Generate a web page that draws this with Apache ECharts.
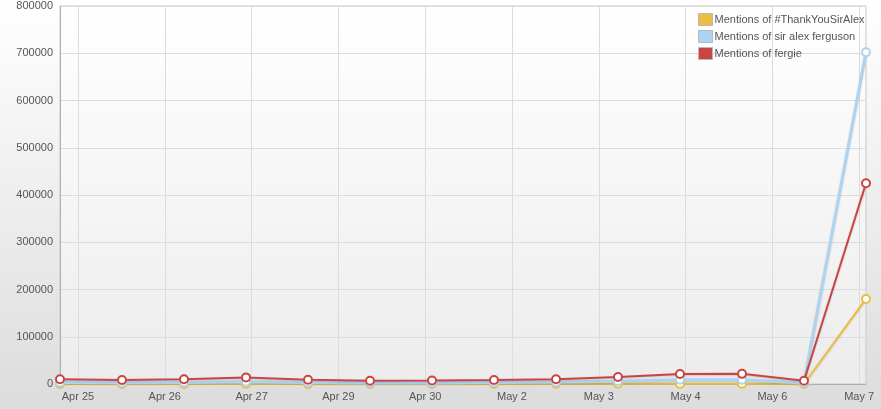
<!DOCTYPE html>
<html>
<head>
<meta charset="utf-8">
<script src="https://cdn.jsdelivr.net/npm/echarts@6/dist/echarts.min.js"></script>
<style>
html,body{margin:0;padding:0;}
#c{width:881px;height:409px;}
</style>
</head>
<body>
<div id="c"></div>
<script>
// Day index of each data point (daily samples)
var days = [0,1,2,3,4,5,6,7,8,9,10,11,12,13];
var seriesNames = ['Mentions of #ThankYouSirAlex','Mentions of sir alex ferguson','Mentions of fergie'];
var thankYou = [0,0,0,500,0,0,0,0,500,500,500,500,0,180000];
var sirAlex  = [3000,2500,3000,5000,3000,2000,2000,3000,4000,6000,9000,9000,2000,702000];
var fergie   = [10000,8500,10000,14000,9000,7000,7500,8500,10000,15000,21000,21500,7000,425000];
// X tick labels and their positions (in days from first sample)
var tickLabels = ['Apr 25','Apr 26','Apr 27','Apr 29','Apr 30','May 2','May 3','May 4','May 6','May 7'];
var tickDays = [0.29,1.69,3.09,4.49,5.89,7.29,8.69,10.09,11.49,12.89];

function pairs(v){ return days.map(function(d,i){ return [d, v[i]]; }); }

var colors = ['#ecbd3e','#acd3f2','#cb4444'];
var chart = echarts.init(document.getElementById('c'));
function mk(name, data, color, width){
  return {
    name: name, type: 'line', data: pairs(data),
    symbol: 'circle', symbolSize: 8, showSymbol: true,
    lineStyle: {color: color, width: width, shadowColor: 'rgba(0,0,0,0.15)', shadowBlur: 2, shadowOffsetY: 1},
    itemStyle: {color: '#ffffff', borderColor: color, borderWidth: 2},
    emphasis: {disabled: true},
    animation: false
  };
}
chart.setOption({
  animation: false,
  backgroundColor: {type:'linear', x:0, y:0, x2:0, y2:1, colorStops:[{offset:0,color:'#ffffff'},{offset:1,color:'#dcdcdc'}]},
  textStyle: {fontFamily: 'Liberation Sans, Arial, sans-serif'},
  grid: {
    left: 60, right: 15, top: 6, bottom: 25, show: true,
    borderColor: '#c8c8c8', borderWidth: 1,
    backgroundColor: {type:'linear', x:0, y:0, x2:0, y2:1, colorStops:[{offset:0,color:'#ffffff'},{offset:1,color:'#ececec'}]}
  },
  legend: {
    orient: 'vertical', left: 693, top: 8, itemWidth: 14, itemHeight: 12, itemGap: 4,
    icon: 'rect',
    data: seriesNames.map(function(n,i){ return {name:n, itemStyle:{color:colors[i], borderColor:'#b8b8b8', borderWidth:1}}; }),
    textStyle: {color:'#555', fontSize: 11, fontFamily:'Liberation Sans, Arial, sans-serif', padding:[0,0,0,-3], lineHeight: 12},
    selectedMode: false
  },
  xAxis: {
    type: 'value', min: 0, max: 13,
    axisLine: {show: true, lineStyle: {color: '#b0b0b0'}},
    axisTick: {show: false, customValues: tickDays},
    axisLabel: {customValues: tickDays, color: '#555', fontSize: 11, margin: 7,
      formatter: function(v){
        var best = 0, bd = 1e9;
        for (var i=0;i<tickDays.length;i++){ var d=Math.abs(tickDays[i]-v); if(d<bd){bd=d;best=i;} }
        return tickLabels[best];
      }},
    splitLine: {show: true, lineStyle: {color: '#dcdcdc'}}
  },
  yAxis: {
    type: 'value', min: 0, max: 800000, interval: 100000,
    axisLine: {show: true, lineStyle: {color: '#b0b0b0'}},
    axisTick: {show: false},
    axisLabel: {color: '#555', fontSize: 11, margin: 7, formatter: function(v){ return String(v); }},
    splitLine: {show: true, lineStyle: {color: '#dcdcdc'}}
  },
  series: [
    mk(seriesNames[0], thankYou, colors[0], 2),
    mk(seriesNames[1], sirAlex, colors[1], 3),
    mk(seriesNames[2], fergie, colors[2], 2)
  ]
});
</script>
</body>
</html>
